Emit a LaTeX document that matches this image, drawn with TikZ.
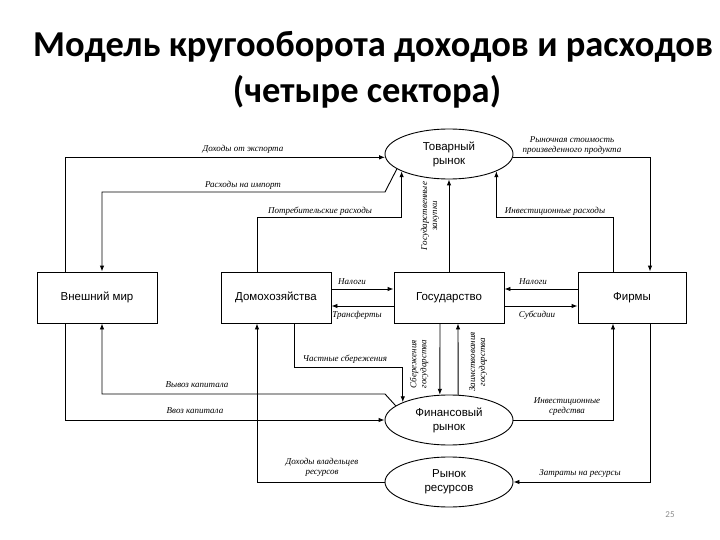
\documentclass[tikz,border=0pt]{standalone}
\usepackage{fontspec}
\setmainfont{Liberation Serif}
\newfontfamily\boxfont{Liberation Sans}
\newfontfamily\titlefont{Carlito}
\usetikzlibrary{shapes.geometric,arrows.meta}
\tikzset{
  box/.style={draw, line width=0.9pt, minimum height=51pt, inner sep=0pt, font=\boxfont\fontsize{11.5}{13}\selectfont},
  oval/.style={draw, ellipse, line width=0.9pt, minimum width=128pt, minimum height=50pt, inner sep=0pt, align=center, font=\boxfont\fontsize{11.5}{14}\selectfont},
  arr/.style={line width=0.9pt, -{Latex[length=6pt,width=4.5pt]}},
  lbl/.style={font=\itshape\fontsize{9}{10}\selectfont, inner sep=0pt, align=center},
  vlbl/.style={lbl, rotate=90},
  ttl/.style={font=\titlefont\bfseries\fontsize{36.5}{42}\selectfont, inner sep=0pt}
}
\begin{document}
\begin{tikzpicture}[x=1pt,y=-1pt]
\useasboundingbox (0,0) rectangle (720,540);
\fill[white] (0,0) rectangle (720,540);
% title
\node[ttl] (t1) at (373,47) {Модель кругооборота доходов и расходов};
\node[ttl] (t2) at (367,92) {(четыре сектора)};
% nodes
\node[box, minimum width=120pt] (vm) at (97,297.5) {Внешний мир};
\node[box, minimum width=110pt] (dh) at (276,297.5) {Домохозяйства};
\node[box, minimum width=110pt] (gos) at (449,297.5) {Государство};
\node[box, minimum width=108pt] (firm) at (632,297.5) {Фирмы};
\node[oval] (tr) at (449,154) {Товарный\\рынок};
\node[oval] (fr) at (449,420) {Финансовый\\рынок};
\node[oval] (rr) at (449,482) {Рынок\\ресурсов};
% goods market links
\draw[arr] (vm.north -| 65,0) |- (tr.183);
\draw[arr] (tr.196) -- (385,192) -| (vm.north -| 102,0);
\draw[arr] (dh.north -| 257,0) |- (tr.200.7 |- 0,217) -- (tr.200.7);
\draw[arr] (gos.north) -- (tr.south);
\draw[arr] (firm.north -| 613,0) |- (tr.-20.7 |- 0,217) -- (tr.-20.7);
\draw[arr] (tr.357) -| (firm.north -| 650,0);
% government links
\draw[arr] (dh.east |- 0,289) -- (gos.west |- 0,289);
\draw[arr] (gos.west |- 0,306) -- (dh.east |- 0,306);
\draw[arr] (firm.west |- 0,289) -- (gos.east |- 0,289);
\draw[arr] (gos.east |- 0,306) -- (firm.west |- 0,306);
\draw[arr] (gos.south -| 440,0) -- (fr.110);
\draw[arr] (fr.70) -- (gos.south -| 458,0);
% financial market links
\draw[arr] (dh.south -| 294,0) |- (fr.159.3 |- 0,367) -- (fr.159.3);
\draw[arr] (fr.165.5) -- (385,394) -| (vm.south -| 102,0);
\draw[arr] (vm.south -| 65,0) |- (fr.west);
\draw[arr] (fr.east) -| (firm.south -| 613,0);
% resource market links
\draw[arr] (rr.west) -| (dh.south -| 257,0);
\draw[arr] (firm.south -| 650,0) |- (rr.east);
% labels
\node[lbl] (l1) at (243,149) {Доходы от экспорта};
\node[lbl] (l2) at (243,185) {Расходы на импорт};
\node[lbl] (l3) at (320,211) {Потребительские расходы};
\node[lbl] (l4) at (572,146) {Рыночная стоимость\\произведенного продукта};
\node[lbl] (l5) at (555,211) {Инвестиционные расходы};
\node[vlbl] (l6) at (430,216) {Государственные\\закупки};
\node[lbl] (l7) at (352,282) {Налоги};
\node[lbl] (l8) at (357,315) {Трансферты};
\node[lbl] (l9) at (533,282) {Налоги};
\node[lbl] (l10) at (537,315) {Субсидии};
\node[lbl] (l11) at (345,359) {Частные сбережения};
\node[lbl] (l12) at (197,385) {Вывоз капитала};
\node[lbl] (l13) at (195,411) {Ввоз капитала};
\node[vlbl] (l14) at (419,364) {Сбережения\\государства};
\node[vlbl] (l15) at (478,362) {Заимствования\\государства};
\node[lbl] (l16) at (567,407) {Инвестиционные\\средства};
\node[lbl] (l17) at (322,467) {Доходы владельцев\\ресурсов};
\node[lbl] (l18) at (580,473) {Затраты на ресурсы};
\node[font=\titlefont\fontsize{9}{10}\selectfont, text=black!45] (pg) at (670,515) {25};
\end{tikzpicture}
\end{document}
